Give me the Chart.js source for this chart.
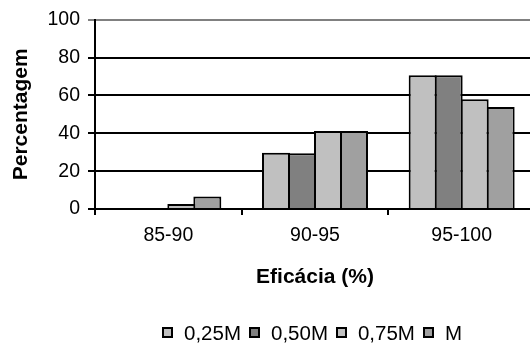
<!DOCTYPE html>
<html>
<head>
<meta charset="utf-8">
<script src="https://cdn.jsdelivr.net/npm/chart.js@4.4.1/dist/chart.umd.min.js"></script>
<style>
  html, body { margin: 0; padding: 0; background: #fff; overflow: hidden; }
  #wrap { position: relative; width: 530px; height: 345px; overflow: hidden; }
  #box { position: absolute; left: 0; top: 0; width: 540px; height: 345px; }
  #legend {
    position: absolute; left: 162px; top: 322px; height: 22px;
    display: flex; align-items: center;
    font: 20.5px "Liberation Sans", Arial, sans-serif; color: #000; line-height: 22px;
    white-space: nowrap;
  }
  #legend .sw { width: 7px; height: 7px; border: 2px solid #000; margin-right: 11px; margin-top: -1px; }
  #legend .it { display: flex; align-items: center; margin-right: 8px; }
</style>
</head>
<body>
<div id="wrap">
  <div id="box"><canvas id="c"></canvas></div>
  <div id="legend"></div>
</div>
<script>
// Efficacy classes (%) and share of cases in each class
const categories = ['85-90', '90-95', '95-100'];
const seriesNames = ['0,25M', '0,50M', '0,75M', 'M'];
const v025 = [0, 29.7, 70.6];
const v050 = [0, 29.5, 70.6];
const v075 = [2.6, 41.2, 58.0];
const vM   = [6.6, 41.2, 53.9];
const yTicks = [0, 20, 40, 60, 80, 100];

const fills = ['#c0c0c0', '#808080', '#c0c0c0', '#a0a0a0'];
const values = [v025, v050, v075, vM];
const FONT = '"Liberation Sans", Arial, sans-serif';

// Bars are slightly wider than their slot so neighbouring outlines merge into one line
const datasets = seriesNames.map((name, i) => ({
  label: name,
  data: values[i],
  backgroundColor: fills[i],
  borderColor: '#000',
  borderWidth: 2,
  borderSkipped: 'start',
  categoryPercentage: 0.709,
  barPercentage: 1.077
}));

new Chart(document.getElementById('c'), {
  type: 'bar',
  data: { labels: categories, datasets },
  options: {
    responsive: true,
    maintainAspectRatio: false,
    animation: false,
    layout: { padding: { top: 9, right: 5, left: 0, bottom: 0 } },
    plugins: { legend: { display: false }, tooltip: { enabled: false } },
    scales: {
      x: {
        grid: { offset: true, drawOnChartArea: false, drawTicks: true, tickLength: 6, color: '#000', lineWidth: 2 },
        border: { display: true, color: '#000', width: 2 },
        ticks: { color: '#000', font: { family: FONT, size: 19.5 }, padding: 9, maxRotation: 0 },
        title: { display: true, text: 'Eficácia (%)', color: '#000', font: { family: FONT, size: 21, weight: 'bold' }, padding: { top: 0, bottom: 55 } },
        afterFit: s => { s.height = 136; }
      },
      y: {
        min: 0, max: 100,
        afterBuildTicks: s => { s.ticks = yTicks.map(v => ({ value: v })); },
        grid: {
          color: c => (c.tick && c.tick.value === 100 ? '#808080' : '#000'),
          lineWidth: 2, drawTicks: true, tickLength: 7
        },
        border: { display: true, color: '#000', width: 2 },
        ticks: { color: '#000', font: { family: FONT, size: 19.5 }, padding: 8 },
        title: { display: true, text: 'Percentagem', color: '#000', font: { family: FONT, size: 21, weight: 'bold' }, padding: { top: 9, bottom: 0 } },
        afterFit: s => { s.width = 95; }
      }
    }
  }
});

// Legend row built from the same series names and fills
const lg = document.getElementById('legend');
seriesNames.forEach((name, i) => {
  const it = document.createElement('div');
  it.className = 'it';
  const sw = document.createElement('span');
  sw.className = 'sw';
  sw.style.background = fills[i];
  const tx = document.createElement('span');
  tx.textContent = name;
  it.appendChild(sw);
  it.appendChild(tx);
  lg.appendChild(it);
});
</script>
</body>
</html>
